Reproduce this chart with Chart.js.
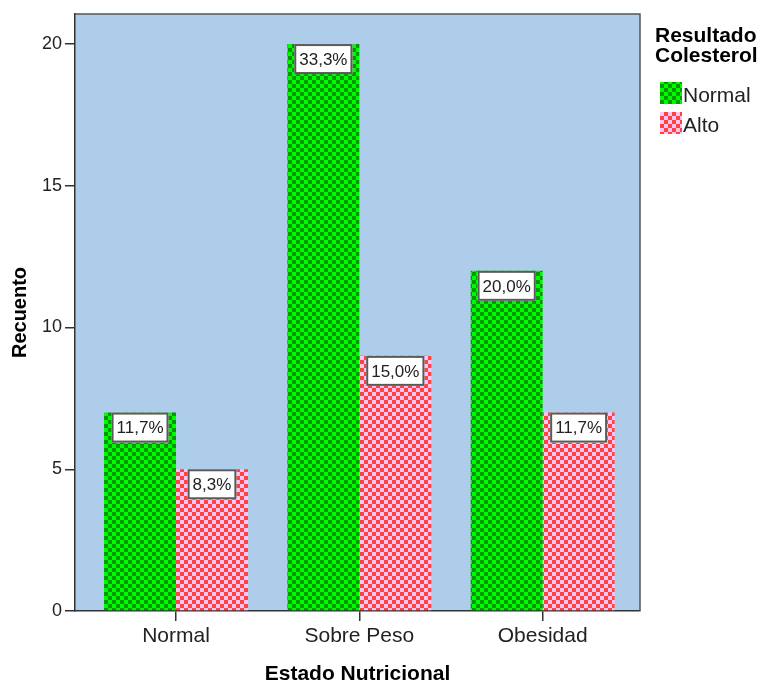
<!DOCTYPE html>
<html>
<head>
<meta charset="utf-8">
<script src="https://cdn.jsdelivr.net/npm/chart.js@4.4.4/dist/chart.umd.min.js"></script>
<style>
  html, body { margin: 0; padding: 0; background: #fff; }
  #wrap { width: 765px; height: 683px; position: relative; }
</style>
</head>
<body>
<div id="wrap"><canvas id="grafico"></canvas></div>
<script>
/* ── Datos ── */
const categorias    = ['Normal', 'Sobre Peso', 'Obesidad'];
const nombresSeries = ['Normal', 'Alto'];
const serieNormal   = [7, 20, 12];
const serieAlto     = [5, 9, 7];
const pctNormal     = ['11,7%', '33,3%', '20,0%'];
const pctAlto       = ['8,3%', '15,0%', '11,7%'];
const ticksY        = [0, 5, 10, 15, 20];
const tituloLeyenda = ['Resultado', 'Colesterol'];

const FUENTE = "'Liberation Sans', Arial, sans-serif";
Chart.defaults.font.family = FUENTE;

const canvas = document.getElementById('grafico');
const ctx = canvas.getContext('2d');

/* ── Trama de ajedrez para las barras ── */
function ajedrez(fondo, cuadro, t) {
  const cv = document.createElement('canvas');
  cv.width = cv.height = t * 2;
  const g = cv.getContext('2d');
  g.fillStyle = fondo;  g.fillRect(0, 0, t * 2, t * 2);
  g.fillStyle = cuadro; g.fillRect(0, 0, t, t); g.fillRect(t, t, t, t);
  return ctx.createPattern(cv, 'repeat');
}
const tramaVerde = ajedrez('#00fa00', '#009a00', 4);
const tramaRosa  = ajedrez('#ffc4f2', '#ff4242', 4);

/* ── Fondo azul y marco del área de trazado ── */
const marco = {
  id: 'marco',
  beforeDraw(chart) {
    const a = chart.chartArea, c = chart.ctx;
    c.save();
    c.fillStyle = '#aecdeb';
    c.fillRect(a.left, a.top, a.right - a.left, a.bottom - a.top);
    c.restore();
  },
  afterDraw(chart) {
    const a = chart.chartArea, c = chart.ctx;
    c.save();
    c.strokeStyle = '#555';
    c.lineWidth = 1.5;
    c.beginPath();
    c.moveTo(a.left, a.top);
    c.lineTo(a.right, a.top);
    c.lineTo(a.right, a.bottom);
    c.stroke();
    c.restore();
  }
};

/* ── Etiquetas de porcentaje en cada barra ── */
const etiquetas = {
  id: 'etiquetas',
  afterDatasetsDraw(chart) {
    const c = chart.ctx;
    c.save();
    c.font = '17px ' + FUENTE;
    c.textAlign = 'center';
    c.textBaseline = 'middle';
    chart.data.datasets.forEach((ds, d) => {
      chart.getDatasetMeta(d).data.forEach((barra, i) => {
        const txt = ds.pct[i];
        const w = c.measureText(txt).width + 10;
        const h = 30;
        const x = barra.x - w / 2, y = barra.y;
        c.fillStyle = '#fff';
        c.fillRect(x, y, w, h);
        c.strokeStyle = '#5a5a5a';
        c.lineWidth = 2;
        c.strokeRect(x + 1, y + 1, w - 2, h - 2);
        c.fillStyle = '#222';
        c.fillText(txt, barra.x, y + h / 2 + 1);
      });
    });
    c.restore();
  }
};

/* ── Leyenda a la derecha ── */
const leyenda = {
  id: 'leyenda',
  afterDraw(chart) {
    const c = chart.ctx;
    c.save();
    c.textBaseline = 'alphabetic';
    c.fillStyle = '#000';
    c.font = 'bold 21px ' + FUENTE;
    tituloLeyenda.forEach((t, i) => c.fillText(t, 655, 42 + i * 19.5));
    c.font = '21px ' + FUENTE;
    chart.data.datasets.forEach((ds, i) => {
      const y = 82 + i * 30;
      c.fillStyle = ds.backgroundColor;
      c.fillRect(660, y, 22, 22);
      c.fillStyle = '#222';
      c.fillText(ds.label, 683, y + 20);
    });
    c.restore();
  }
};

new Chart(ctx, {
  type: 'bar',
  data: {
    datasets: [
      {
        label: nombresSeries[0],
        data: serieNormal.map((v, i) => ({ x: i, y: v })),
        pct: pctNormal,
        backgroundColor: tramaVerde,
        borderWidth: 0,
        categoryPercentage: 0.785,
        barPercentage: 1
      },
      {
        label: nombresSeries[1],
        data: serieAlto.map((v, i) => ({ x: i, y: v })),
        pct: pctAlto,
        backgroundColor: tramaRosa,
        borderWidth: 0,
        categoryPercentage: 0.785,
        barPercentage: 1
      }
    ]
  },
  options: {
    responsive: true,
    maintainAspectRatio: false,
    animation: false,
    events: [],
    layout: { padding: { top: 14, right: 125, left: 0, bottom: 0 } },
    plugins: {
      legend: { display: false },
      tooltip: { enabled: false }
    },
    scales: {
      x: {
        type: 'linear',
        min: -0.551,
        max: 2.531,
        offset: false,
        afterBuildTicks: s => { s.ticks = categorias.map((c, i) => ({ value: i })); },
        afterFit: s => { s.height = 72; },
        ticks: {
          callback: v => categorias[v],
          font: { size: 21 },
          color: '#222',
          padding: 3,
          autoSkip: false,
          maxRotation: 0
        },
        grid: { offset: false, drawOnChartArea: false, drawTicks: true, tickLength: 10, color: '#333', lineWidth: 1.5 },
        border: { display: true, color: '#333', width: 1.5 },
        title: {
          display: true,
          text: 'Estado Nutricional',
          color: '#000',
          font: { size: 21, weight: 'bold', lineHeight: 0.8 },
          padding: 0
        }
      },
      y: {
        min: 0,
        max: 21.06,
        afterBuildTicks: s => { s.ticks = ticksY.map(v => ({ value: v })); },
        afterFit: s => { s.width = 75; },
        ticks: { font: { size: 18 }, color: '#222', padding: 3 },
        grid: { drawOnChartArea: false, drawTicks: true, tickLength: 10, color: '#333', lineWidth: 1.5 },
        border: { display: true, color: '#333', width: 1.5 },
        title: {
          display: true,
          text: 'Recuento',
          color: '#000',
          font: { size: 20, weight: 'bold' },
          padding: { top: 8, bottom: 0 }
        }
      }
    }
  },
  plugins: [marco, etiquetas, leyenda]
});
</script>
</body>
</html>
